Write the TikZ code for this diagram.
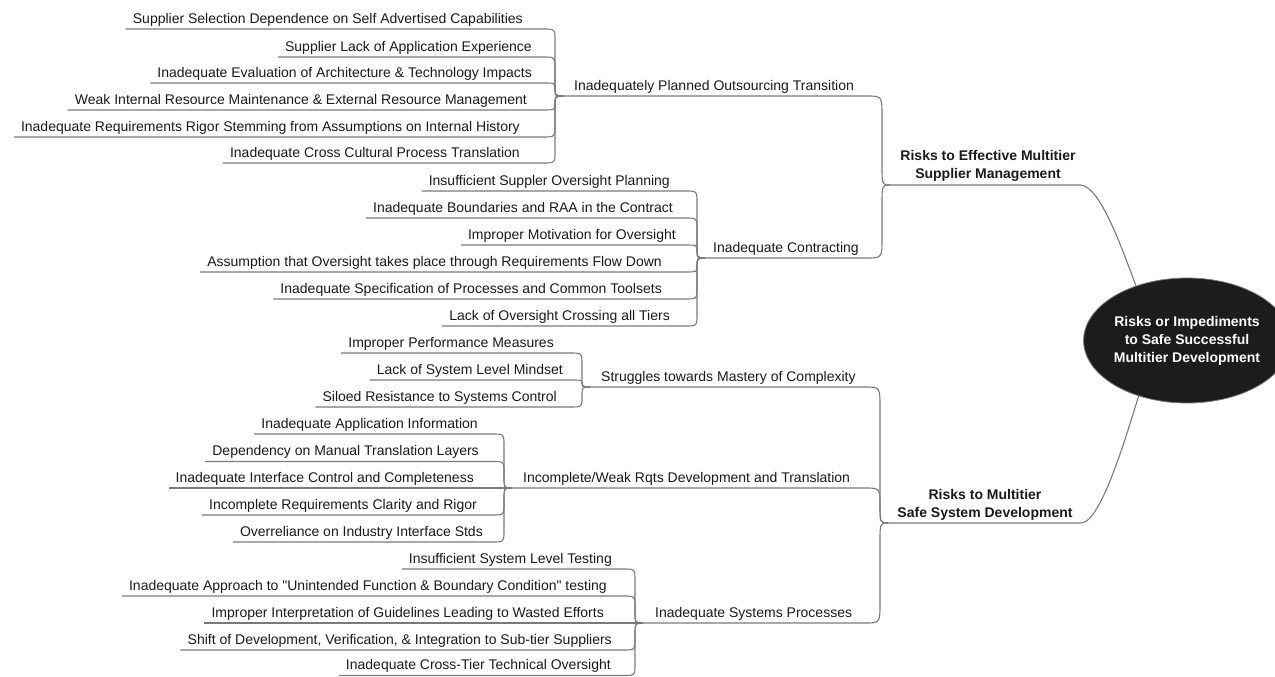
\documentclass[tikz,border=0pt]{standalone}
\usepackage{fontspec}
\setmainfont{Liberation Sans}
\newfontfamily\qfont{Liberation Sans}[Ligatures=TeXOff]
\usetikzlibrary{calc,shapes.geometric}
\definecolor{txt}{HTML}{1A1A1A}
\definecolor{lnc}{HTML}{7A7A7A}
\definecolor{rootc}{HTML}{1C1C1C}
\newcommand\sq{{\qfont\symbol{34}}}
% #1 start of underline, #2 end of underline, #3 junction, #4 inset of vertical, #5 corner radius
\newcommand\bracelink[5]{%
  \draw[conn] let \p1=#2, \p2=(#3),
    \n1={max(-#5,min(#5,(\y2-(\y1))/2))} in
    #1 -- (\p1) .. controls (\x2-#4pt,\y1) .. (\x2-#4pt,\y1+\n1*1pt)
    -- (\x2-#4pt,\y2-\n1*1pt) .. controls (\x2-#4pt,\y2) .. (\p2);}
% #1 name, #2 junction, #3 right end of text, #4 underline y, #5 text
\newcommand\leafnode[5]{%
  \node[leaf, anchor=south east] (#1) at (#3+7,#4) {#5};
  \bracelink{(#1.south west)}{($(#1.south west -| #2)+(-20,0)$)}{#2}{8}{12}}
\begin{document}
\begin{tikzpicture}[x=1pt,y=-1pt,
  conn/.style={draw=lnc,line width=1.1pt},
  leaf/.style={font=\fontsize{14}{16}\selectfont, text=txt, inner xsep=7pt, inner ysep=0pt, text depth=5.6pt},
  topic/.style={font=\fontsize{14}{16}\selectfont, text=txt, inner sep=0pt},
  mainc/.style={font=\bfseries\fontsize{14}{18}\selectfont, text=txt, align=center, inner sep=0pt},
  rootn/.style={ellipse, draw=lnc, line width=0.8pt, fill=rootc, text=white,
    font=\bfseries\fontsize{14}{18}\selectfont, align=center,
    minimum width=170pt, minimum height=125pt, inner sep=0pt}]
\useasboundingbox (0,0) rectangle (1275,677);

% junctions
\coordinate (J1) at (563,96);
\coordinate (J2) at (705,258);
\coordinate (J3) at (590,387);
\coordinate (J4) at (512,488);
\coordinate (J5) at (643,623);
\coordinate (JA) at (890,185);
\coordinate (JB) at (888,523);

% root
\node[rootn] (root) at (1187,340.5) {Risks or Impediments\\to Safe Successful\\Multitier Development};

% main branches
\node[mainc] (MA) at (988,166) {Risks to Effective Multitier\\Supplier Management};
\node[mainc] (MB) at (985,504.5) {Risks to Multitier\\Safe System Development};
\draw[conn] (JA) -- ($(JA)+(190,0)$) .. controls +(20,0) and +(-14,-37) .. (root.133);
\draw[conn] (JB) -- ($(JB)+(193,0)$) .. controls +(20,0) and +(-12,38) .. (root.-131);

% topics
\node[topic, anchor=base west] (T1) at ($(J1)+(11,-5.6)$) {Inadequately Planned Outsourcing Transition};
\bracelink{(J1)}{($(J1 -| JA)+(-24,0)$)}{JA}{8}{20}
\node[topic, anchor=base west] (T2) at ($(J2)+(8,-5.6)$) {Inadequate Contracting};
\bracelink{(J2)}{($(J2 -| JA)+(-24,0)$)}{JA}{8}{20}
\node[topic, anchor=base west] (T3) at ($(J3)+(11,-5.6)$) {Struggles towards Mastery of Complexity};
\bracelink{(J3)}{($(J3 -| JB)+(-24,0)$)}{JB}{8}{20}
\node[topic, anchor=base west] (T4) at ($(J4)+(11,-5.6)$) {Incomplete/Weak Rqts Development and Translation};
\bracelink{(J4)}{($(J4 -| JB)+(-24,0)$)}{JB}{8}{20}
\node[topic, anchor=base west] (T5) at ($(J5)+(12,-5.6)$) {Inadequate Systems Processes};
\bracelink{(J5)}{($(J5 -| JB)+(-24,0)$)}{JB}{8}{20}

% group 1
\leafnode{L1a}{J1}{523}{29}{Supplier Selection Dependence on Self Advertised Capabilities}
\leafnode{L1b}{J1}{532}{57}{Supplier Lack of Application Experience}
\leafnode{L1c}{J1}{532}{83}{Inadequate Evaluation of Architecture \& Technology Impacts}
\leafnode{L1d}{J1}{527}{110}{Weak Internal Resource Maintenance \& External Resource Management}
\leafnode{L1e}{J1}{520}{137}{Inadequate Requirements Rigor Stemming from Assumptions on Internal History}
\leafnode{L1f}{J1}{520}{163}{Inadequate Cross Cultural Process Translation}

% group 2
\leafnode{L2a}{J2}{670}{191}{Insufficient Suppler Oversight Planning}
\leafnode{L2b}{J2}{673}{218}{Inadequate Boundaries and RAA in the Contract}
\leafnode{L2c}{J2}{676}{245}{Improper Motivation for Oversight}
\leafnode{L2d}{J2}{662}{272}{Assumption that Oversight takes place through Requirements Flow Down}
\leafnode{L2e}{J2}{662}{299}{Inadequate Specification of Processes and Common Toolsets}
\leafnode{L2f}{J2}{670}{326}{Lack of Oversight Crossing all Tiers}

% group 3
\leafnode{L3a}{J3}{554}{353}{Improper Performance Measures}
\leafnode{L3b}{J3}{563}{380}{Lack of System Level Mindset}
\leafnode{L3c}{J3}{557}{407}{Siloed Resistance to Systems Control}

% group 4
\leafnode{L4a}{J4}{478}{434}{Inadequate Application Information}
\leafnode{L4b}{J4}{479}{461.5}{Dependency on Manual Translation Layers}
\leafnode{L4c}{J4}{474}{488}{Inadequate Interface Control and Completeness}
\leafnode{L4d}{J4}{477}{515}{Incomplete Requirements Clarity and Rigor}
\leafnode{L4e}{J4}{483}{542}{Overreliance on Industry Interface Stds}

% group 5
\leafnode{L5a}{J5}{612}{569}{Insufficient System Level Testing}
\leafnode{L5b}{J5}{607}{596}{Inadequate Approach to \sq Unintended Function \& Boundary Condition\sq{} testing}
\leafnode{L5c}{J5}{604}{623}{Improper Interpretation of Guidelines Leading to Wasted Efforts}
\leafnode{L5d}{J5}{612}{650}{Shift of Development, Verification, \& Integration to Sub-tier Suppliers}
\leafnode{L5e}{J5}{611}{675.5}{Inadequate Cross-Tier Technical Oversight}
\end{tikzpicture}
\end{document}
